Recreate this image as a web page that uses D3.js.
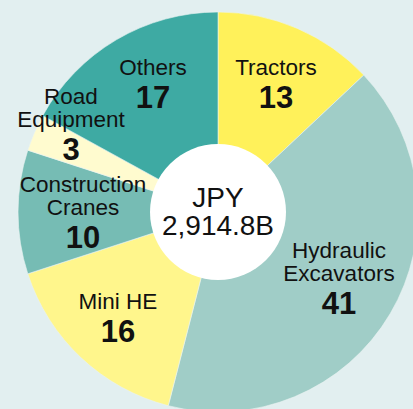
<!DOCTYPE html>
<html>
<head>
<meta charset="utf-8">
<script src="https://cdn.jsdelivr.net/npm/d3@7"></script>
<style>
  html, body { margin: 0; padding: 0; background: #e2eff0; }
  svg { display: block; }
  text { font-family: "Liberation Sans", Arial, sans-serif; fill: #111; }
</style>
</head>
<body>
<svg id="chart"></svg>
<script>
// data (clockwise from 12 o'clock)
const categories = ["Tractors", "Hydraulic Excavators", "Mini HE", "Construction Cranes", "Road Equipment", "Others"];
const labelLines = [["Tractors"], ["Hydraulic", "Excavators"], ["Mini HE"], ["Construction", "Cranes"], ["Road", "Equipment"], ["Others"]];
const shares = [13, 41, 16, 10, 3, 17];
const colors = ["#fff15a", "#a0cdc7", "#fff68c", "#76bcb4", "#fffbcf", "#3eaaa3"];
const centerLines = ["JPY", "2,914.8B"];

const W = 413, H = 409;
const cx = 218, cy = 212;
const outerR = 200, innerR = 68;

// label anchor (x of centre, baseline of first line) in page coords
const labelPos = {
  "Tractors": [276, 75],
  "Hydraulic Excavators": [339, 258],
  "Mini HE": [118, 309],
  "Construction Cranes": [83, 192],
  "Road Equipment": [71, 104],
  "Others": [153, 75]
};
const lineGap = 23, numGap = 33;

const svg = d3.select("#chart").attr("width", W).attr("height", H);

const pie = d3.pie().sort(null).value(d => d.v);
const arc = d3.arc().innerRadius(0).outerRadius(outerR);

const rows = categories.map((c, i) => ({ name: c, v: shares[i], color: colors[i], lines: labelLines[i] }));

const g = svg.append("g").attr("transform", `translate(${cx},${cy})`);

g.selectAll("path")
  .data(pie(rows))
  .join("path")
  .attr("d", arc)
  .attr("fill", d => d.data.color)
  .attr("stroke", "#e9f4f2")
  .attr("stroke-width", 0.6);

g.append("circle").attr("r", innerR).attr("fill", "#fff");

centerLines.forEach((t, i) => {
  g.append("text")
    .attr("text-anchor", "middle")
    .attr("y", i === 0 ? -5 : 23)
    .style("font-size", "28px")
    .text(t);
});

// labels
rows.forEach(r => {
  const [x, y] = labelPos[r.name];
  const lg = svg.append("g");
  r.lines.forEach((t, j) => {
    lg.append("text")
      .attr("x", x).attr("y", y + j * lineGap)
      .attr("text-anchor", "middle")
      .style("font-size", "22.5px")
      .text(t);
  });
  lg.append("text")
    .attr("x", x).attr("y", y + (r.lines.length - 1) * lineGap + numGap)
    .attr("text-anchor", "middle")
    .style("font-size", "31px")
    .style("font-weight", "bold")
    .text(r.v);
});
</script>
</body>
</html>
